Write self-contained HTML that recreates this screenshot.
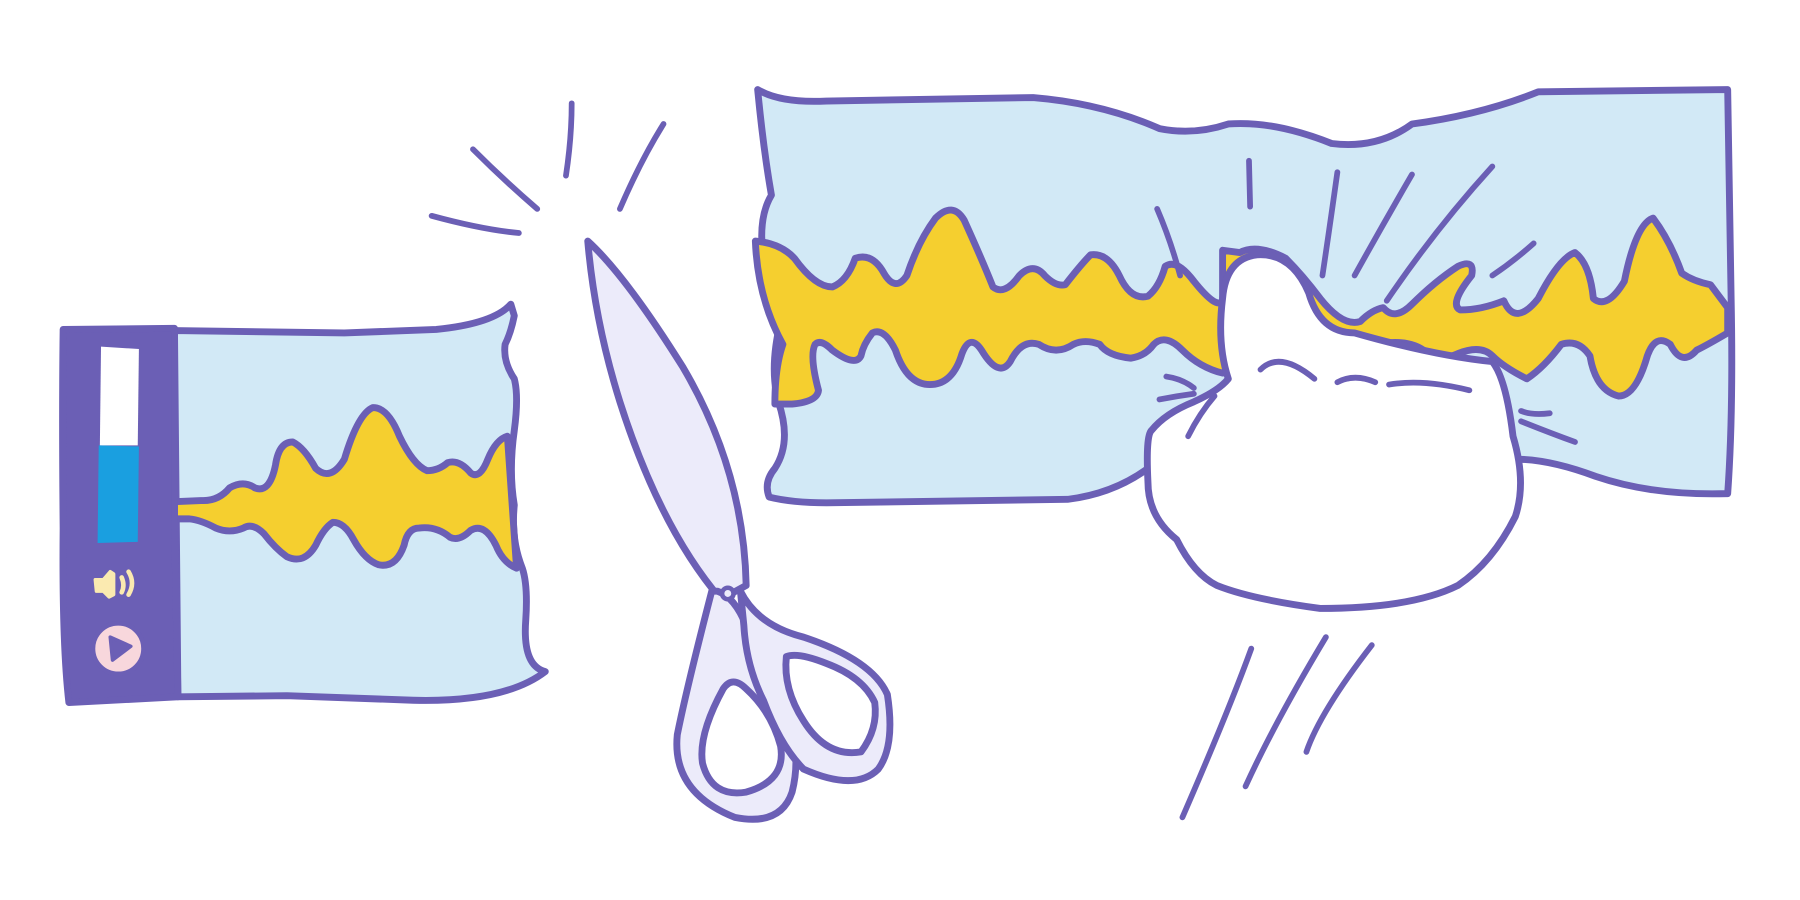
<!DOCTYPE html>
<html><head><meta charset="utf-8"><title>Scissors cutting video</title>
<style>html,body{margin:0;padding:0;background:#fff;}svg{display:block;}</style></head>
<body>
<svg width="1800" height="900" viewBox="0 0 1568 784" preserveAspectRatio="none" xmlns="http://www.w3.org/2000/svg">
<g stroke="#6b5fb5" stroke-width="6" stroke-linecap="round" stroke-linejoin="round">
<!-- left panel -->
<g>
<path d="M152,288 L300,290 L380,287 Q430,282 445,265 L448,275 Q445,290 440,300 Q438,315 448,330 Q452,345 448,375 Q443,410 448,440 Q445,470 455,495 Q460,510 458,540 Q455,580 475,585 Q440,612 360,610 L250,606 L155,607 Z" fill="#d2e9f6"/>
<path d="M152,437 L175,436 Q190,437 200,425 Q212,418 222,425 Q235,430 240,405 Q243,385 255,385 Q265,390 275,408 Q288,420 300,400 Q312,360 325,355 Q338,355 348,380 Q360,405 372,410 Q382,410 390,403 Q400,400 410,412 Q418,418 425,400 Q432,383 442,380 L450,495 Q438,490 432,475 Q422,455 410,462 Q400,472 392,468 Q380,458 365,460 Q355,460 352,475 Q345,495 330,492 Q318,488 308,470 Q300,455 290,455 Q282,460 275,475 Q265,492 250,485 Q240,478 230,465 Q220,455 212,460 Q200,465 188,460 Q175,453 165,452 L152,452 Z" fill="#f5cf2f"/>
<path d="M55,287 L152,286 L152,452 L155,607 L60,612 Q54,560 55,460 Q54,360 55,287 Z" fill="#6b5fb5"/>
<path d="M88,302 L121,304 L120,388 L87,388 Z" fill="#ffffff" stroke="none"/>
<path d="M86,388 L121,389 L120,472 L85,473 Z" fill="#1a9fe0" stroke="none"/>
<path d="M83,505 L90,505 L96,498 L99,500 L99,518 L95,520 L90,515 L84,515 Z" fill="#fbeab0" stroke="#fbeab0" stroke-width="3"/>
<path d="M106,503 Q109,510 106,516 M112,498 Q118,508 112,518" fill="none" stroke="#fbeab0" stroke-width="4"/>
<circle cx="103" cy="565" r="22" fill="#f8d7dc" stroke="#6b5fb5" stroke-width="4"/>
<path d="M96,555 L114,563 L98,575 Z" fill="#6b5fb5" stroke-width="3"/>
</g>
<!-- scissor sparks -->
<g fill="none" stroke-width="5">
<path d="M376,188 Q420,200 452,203"/><path d="M412,130 Q440,158 468,182"/><path d="M493,153 Q498,120 498,90"/><path d="M540,182 Q558,140 578,108"/>
</g>
<!-- scissors -->
<g>
<path d="M512,210 Q545,240 595,320 Q648,410 650,510 L628,522 Q575,460 540,350 Q518,280 512,210 Z" fill="#ecebfa"/>
<path d="M620,515 Q598,600 590,640 Q585,690 640,712 Q680,720 690,690 Q700,650 680,615 Q660,580 650,545 Q640,520 625,515 Z" fill="#ecebfa"/>
<path d="M630,600 Q608,640 612,665 Q620,695 650,690 Q685,680 680,650 Q672,620 650,600 Q638,588 630,600 Z" fill="#ffffff"/>
<path d="M645,515 Q660,545 700,555 Q760,575 773,605 Q780,650 765,670 Q745,690 700,670 Q680,650 665,610 Q650,580 648,545 Z" fill="#ecebfa"/>
<path d="M685,572 Q682,600 700,628 Q720,660 750,655 Q765,635 762,612 Q752,590 720,578 Q695,568 685,572 Z" fill="#ffffff"/>
<circle cx="634" cy="517" r="5" fill="#ecebfa" stroke-width="4"/>
</g>
<!-- right panel -->
<g>
<path d="M660,78 Q680,90 720,88 L900,85 Q960,90 1010,112 Q1040,118 1070,108 Q1110,105 1160,125 Q1200,130 1230,108 Q1290,100 1340,80 L1505,78 L1508,260 Q1510,360 1505,430 Q1440,432 1390,415 Q1350,400 1320,400 L1000,408 Q970,430 930,435 L720,438 Q690,438 670,433 Q665,420 675,408 Q690,385 678,350 Q670,320 680,280 Q680,260 665,225 Q660,190 672,170 Q665,130 660,78 Z" fill="#d2e9f6"/>
<path d="M658,210 Q680,212 692,225 Q710,250 725,250 Q738,245 745,225 Q760,220 770,238 Q780,255 790,240 Q800,210 815,190 Q830,175 840,192 Q855,225 865,250 Q875,258 888,240 Q900,228 910,240 Q920,250 928,248 Q942,230 950,222 Q965,220 975,240 Q985,262 1000,258 Q1010,250 1015,232 Q1025,225 1040,245 Q1060,270 1065,262 L1065,218 L1080,220 Q1095,212 1120,225 Q1135,240 1150,260 Q1170,285 1185,280 Q1195,270 1205,268 Q1215,280 1230,265 Q1250,245 1270,232 Q1285,225 1282,240 Q1262,265 1272,270 Q1290,270 1310,262 Q1320,285 1340,260 Q1358,225 1372,220 Q1385,230 1388,260 Q1400,270 1415,245 Q1425,195 1440,190 Q1455,210 1465,238 Q1475,245 1490,248 L1505,268 L1505,290 Q1488,300 1478,305 Q1465,320 1455,300 Q1442,290 1435,310 Q1425,345 1410,345 Q1390,340 1385,310 Q1375,295 1360,300 Q1345,320 1330,330 Q1310,320 1300,310 Q1290,300 1270,308 Q1255,315 1240,305 Q1225,295 1200,300 Q1180,295 1165,290 Q1150,288 1120,320 L1065,325 Q1045,320 1030,305 Q1015,290 1005,300 Q998,310 985,312 Q965,310 958,300 Q945,295 935,300 Q920,310 905,300 Q890,295 880,315 Q870,330 855,305 Q845,290 838,308 Q830,335 810,335 Q790,335 780,305 Q770,285 760,290 Q752,300 750,310 Q745,320 725,305 Q715,295 710,300 Q705,310 713,340 Q712,350 690,352 L675,352 Q675,320 682,300 Q660,260 658,210 Z" fill="#f5cf2f"/>
</g>
<!-- hand -->
<path d="M1070,330 Q1060,300 1065,260 Q1068,225 1095,222 Q1125,220 1140,255 Q1150,290 1180,290 Q1250,310 1300,315 Q1312,330 1318,380 Q1330,420 1320,450 Q1300,490 1270,510 Q1230,530 1150,530 Q1090,522 1060,510 Q1040,500 1025,470 Q1000,450 1000,420 Q998,380 1003,375 Q1015,360 1040,350 Q1062,340 1070,330 Z" fill="#ffffff"/>
<g fill="none" stroke-width="5">
<path d="M1098,322 Q1115,305 1145,330"/><path d="M1165,333 Q1180,325 1198,333"/><path d="M1210,335 Q1240,330 1280,340"/>
<path d="M1008,182 Q1020,210 1028,240"/><path d="M1088,140 L1089,180"/><path d="M1165,150 Q1158,200 1152,240"/><path d="M1230,152 Q1205,195 1180,240"/><path d="M1300,145 Q1250,200 1208,262"/><path d="M1336,212 Q1318,228 1300,240"/>
<path d="M1016,328 Q1030,330 1040,338"/><path d="M1010,348 Q1025,345 1040,343"/><path d="M1058,345 Q1045,360 1035,380"/>
<path d="M1325,358 Q1335,362 1350,360"/><path d="M1325,367 Q1350,377 1372,385"/>
<path d="M1090,565 Q1070,620 1030,712"/><path d="M1155,555 Q1110,630 1085,685"/><path d="M1195,562 Q1150,620 1138,655"/>
</g>
</g>
</svg>
</body></html>
